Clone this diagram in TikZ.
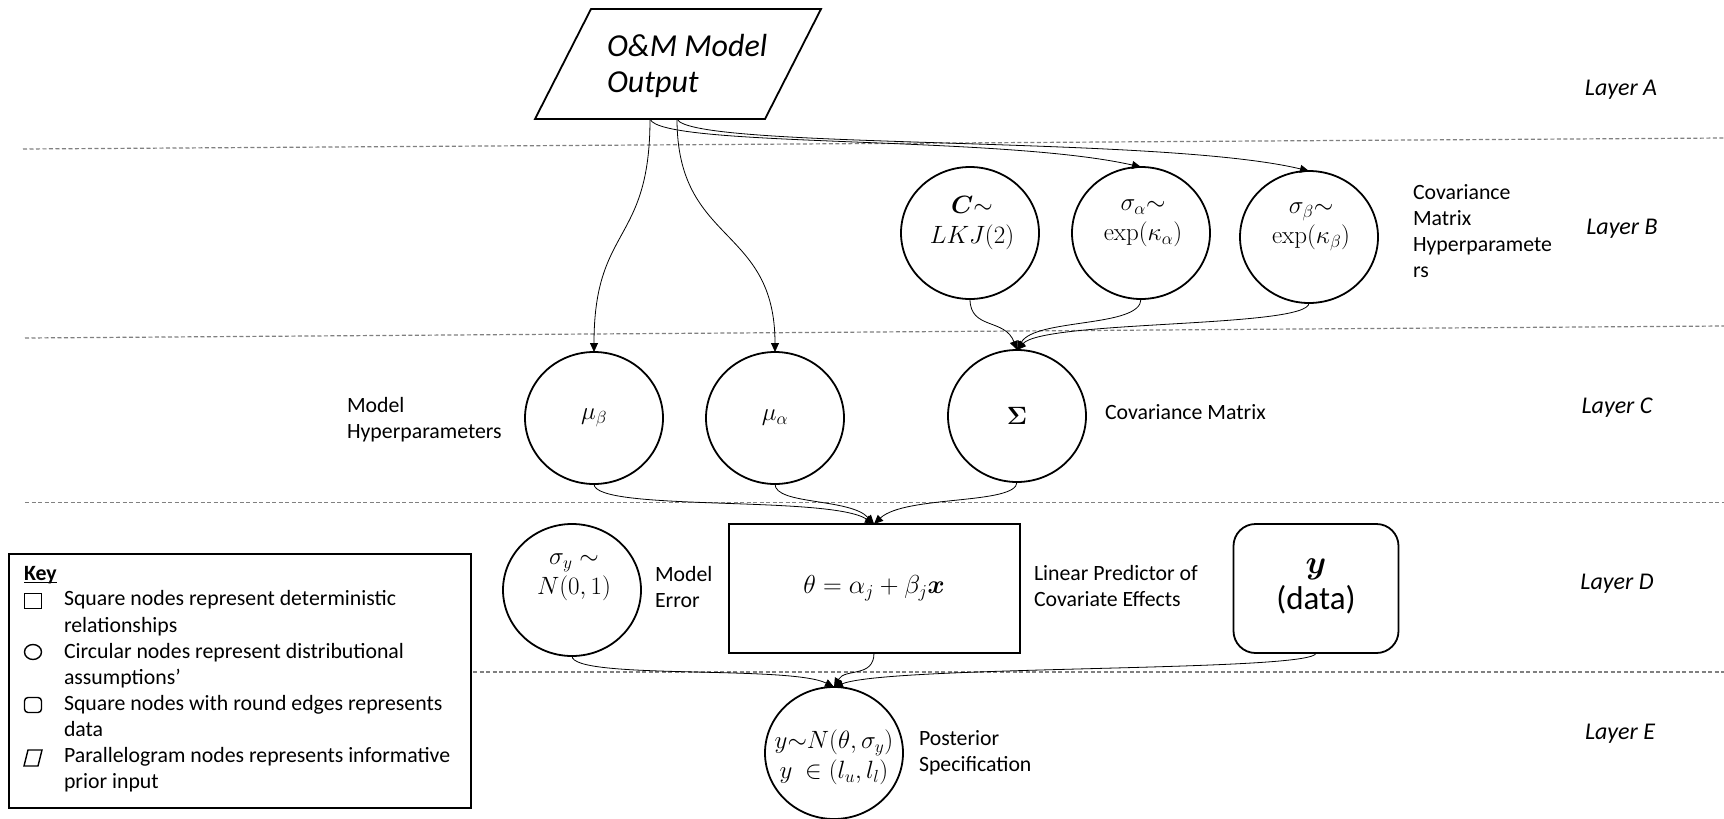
\RequirePackage{fix-cm}
\documentclass[tikz,border=0pt]{standalone}
\usepackage{amsmath,bm}
\usepackage[no-math]{fontspec}
\setmainfont{Carlito}
\usetikzlibrary{shapes.geometric,arrows.meta}

\tikzset{
  every node/.style={inner sep=0pt, outer sep=0pt},
  txt/.style={font=\fontsize{21.8}{26.1}\selectfont, align=left, anchor=north west},
  layer/.style={font=\fontsize{24}{28}\selectfont\itshape},
  dist/.style={ellipse, draw, line width=1.8pt, minimum width=138pt, minimum height=132pt,
               font=\fontsize{25}{30}\selectfont},
  mtxt/.style={font=\fontsize{25}{30}\selectfont, align=center},
  conn/.style={line width=0.8pt, -{Triangle[length=9pt,width=8pt]}},
  sep/.style={draw=gray, line width=1.2pt, dash pattern=on 4pt off 2.5pt},
  keyicon/.style={draw, line width=1.4pt, minimum width=17pt, minimum height=15pt},
}

\begin{document}
\begin{tikzpicture}[x=1pt,y=-1pt]
\useasboundingbox (0,0) rectangle (1724,819);

% layer separators
\draw[sep] (23,149) -- (1724,138);
\draw[sep] (25,338) -- (1724,326);
\draw[sep] (25,502.5) -- (1724,502.5);
\draw[sep] (473,672) -- (1724,672);

% layer labels
\node[layer] (layA) at (1621,90) {Layer A};
\node[layer] (layB) at (1622,229) {Layer B};
\node[layer] (layC) at (1617,408) {Layer C};
\node[layer] (layD) at (1617,584) {Layer D};
\node[layer] (layE) at (1620,734) {Layer E};

% Layer A: informative prior input
\draw[line width=1.8pt] (535,119) -- (765,119) -- (821,9) -- (591,9) -- cycle;
\node[anchor=north west, font=\fontsize{32}{35.5}\selectfont\itshape, align=left]
  (omtext) at (607,32) {\strut O\&M Model\\Output};
\coordinate (omL) at (650,119);
\coordinate (omR) at (677,119);

% Layer B: covariance hyperparameters
\node[dist] (C) at (970,233) {};
\node[mtxt] (Ct) at (972,223) {$\boldsymbol{C}{\sim}$\\$LKJ(2)$};
\node[dist] (sa) at (1141,233) {};
\node[mtxt] (sat) at (1143,223) {$\sigma_\alpha{\sim}$\\$\exp(\kappa_\alpha)$};
\node[dist] (sb) at (1309,237) {};
\node[mtxt] (sbt) at (1311,227) {$\sigma_\beta{\sim}$\\$\exp(\kappa_\beta)$};
\node[txt] (covhyp) at (1413,181) {\strut Covariance\\Matrix\\Hyperparamete\\rs};

% Layer C: model hyperparameters and covariance matrix
\node[dist] (mub) at (594,418) {$\mu_\beta$};
\node[dist] (mua) at (775,418) {$\mu_\alpha$};
\node[dist] (Sig) at (1017,416) {$\boldsymbol{\Sigma}$};
\node[txt] (modhyp) at (347,394) {\strut Model\\Hyperparameters};
\node[txt] (covmat) at (1105,401) {\strut Covariance Matrix};

% Layer D: error, linear predictor, data
\node[dist] (sy) at (572,590) {};
\node[mtxt] (syt) at (574,577) {$\sigma_y\sim$\\$N(0,1)$};
\node[txt] (moderr) at (655,563) {\strut Model\\Error};
\node[draw, line width=2pt, minimum width=291pt, minimum height=129pt] (lin) at (874,588.5)
  {\fontsize{26}{30}\selectfont\raisebox{5pt}{$\theta = \alpha_j + \beta_j\boldsymbol{x}$}};
\node[txt] (linpred) at (1034,562) {\strut Linear Predictor of\\Covariate Effects};
\node[draw, line width=1.8pt, rounded corners=22pt, minimum width=165pt, minimum height=129pt]
  (data) at (1316,588.5) {};
\node[align=center, font=\fontsize{33}{36}\selectfont] (datat) at (1316,586)
  {$\boldsymbol{y}$\\(data)};

% Layer E: posterior
\node[dist] (post) at (834,753) {};
\node[mtxt] (postt) at (834,757) {$y{\sim}N\!\left(\theta,\sigma_y\right)$\\$y\ \in(l_u,l_l)$};
\node[txt] (postlab) at (919,727) {\strut Posterior\\Specification};

% connectors
\draw[conn] (omL) .. controls (650,245) and (594,225) .. (mub.north);
\draw[conn] (omR) .. controls (677,245) and (775,225) .. (mua.north);
\draw[conn] (omL) .. controls (660,148) and (1000,135) .. (sa.north);
\draw[conn] (omR) .. controls (690,150) and (1160,135) .. (sb.north);

\draw[conn] (C.south) .. controls (970,330) and (1005,318) .. (Sig.north);
\draw[conn] (sa.south) .. controls (1141,328) and (1035,318) .. (Sig.north);
\draw[conn] (sb.south) .. controls (1309,328) and (1045,320) .. (Sig.north);

\draw[conn] (mub.south) .. controls (594,512) and (830,495) .. (lin.north);
\draw[conn] (mua.south) .. controls (775,505) and (850,498) .. (lin.north);
\draw[conn] (Sig.south) .. controls (1017,505) and (905,495) .. (lin.north);

\draw[conn] (sy.south) .. controls (572,680) and (790,665) .. (post.north);
\draw[conn] (lin.south) .. controls (874,678) and (845,668) .. (post.north);
\draw[conn] (data.south) .. controls (1316,672) and (890,665) .. (post.north);

% key
\node[draw, line width=1.8pt, minimum width=462pt, minimum height=254pt, anchor=north west]
  (keybox) at (9,554) {};
\node[txt, font=\fontsize{21.8}{26.1}\selectfont\bfseries] (keyhead) at (24,562) {\strut Key};
\draw[line width=1.3pt] ([yshift=-2.5pt]keyhead.base west) -- ([yshift=-2.5pt]keyhead.base east);
\node[keyicon] (kSq) at (33,601) {};
\node[keyicon, ellipse] (kCirc) at (33,652) {};
\node[keyicon, rounded corners=3.5pt] (kRnd) at (33,705) {};
\draw[line width=1.4pt] (24,766) -- (38,766) -- (42,750) -- (28,750) -- cycle;
\node[txt] (keytext) at (64,587.7) {\strut Square nodes represent deterministic\\relationships\\
  Circular nodes represent distributional\\assumptions’\\
  Square nodes with round edges represents\\data\\
  Parallelogram nodes represents informative\\prior input};
\end{tikzpicture}
\end{document}
